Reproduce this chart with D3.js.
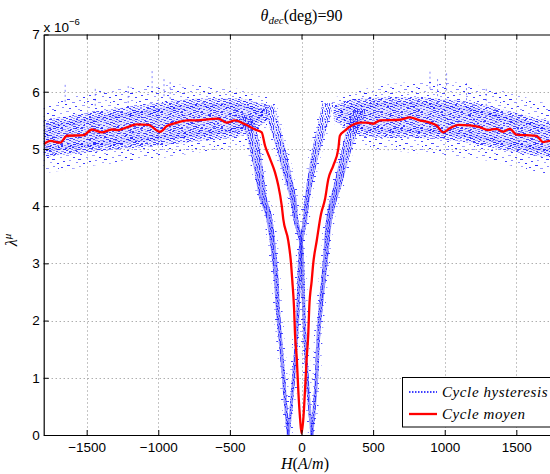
<!DOCTYPE html>
<html><head><meta charset="utf-8">
<script src="https://cdn.jsdelivr.net/npm/d3@7"></script>
<style>body{margin:0;background:#fff}svg{display:block}</style>
</head><body>
<svg id="c" width="550" height="474"></svg>
<script>
// ---------- data (λ values in units of 1e-6) ----------
const xTicks = [-1500, -1000, -500, 0, 500, 1000, 1500];
const yTicks = [0, 1, 2, 3, 4, 5, 6, 7];
const titleMain = "θ", titleSub = "dec", titleRest = "(deg)=90";
const legendLabels = ["Cycle hysteresis", "Cycle moyen"];

// Cycle moyen (mean curve)
const redH = [-1800,-1754,-1684,-1637,-1522,-1463,-1393,-1324,-1280,-1196,-1149,-1070,-987,-940,-870,-800,-731,-638,-582,-522,-464,-394,-324,-278,-255,-220,-185,-162,-138,-127,-92,-73,-64,-52,-45,-33,-22,-10,0,13,24,36,47,54,71,82,106,136,164,187,222,257,268,303,350,408,455,501,547,687,757,826,896,943,989,1036,1093,1175,1245,1303,1361,1407,1454,1501,1570,1640,1686,1733,1800];
const redL = [5.08,5.14,5.11,5.23,5.24,5.34,5.29,5.34,5.33,5.40,5.43,5.42,5.30,5.40,5.46,5.50,5.50,5.52,5.53,5.46,5.50,5.43,5.34,5.29,5.06,4.83,4.59,4.36,4.01,3.77,3.39,3.0,2.69,2.22,1.75,1.34,0.76,0.29,0.03,0.29,0.76,1.34,1.75,2.22,2.69,3.0,3.39,3.86,4.12,4.47,4.71,5.0,5.23,5.32,5.41,5.46,5.46,5.44,5.5,5.51,5.55,5.5,5.46,5.41,5.29,5.36,5.42,5.41,5.38,5.33,5.35,5.30,5.35,5.25,5.24,5.23,5.12,5.14,5.12];

// Cycle hysteresis: saturated regions (scatter envelope and dense core)
const leftH      = [-1800,-1600,-1400,-1200,-1000,-800,-600,-450,-350,-260];
const leftOutHi  = [5.65,5.85,5.95,6.0,6.05,6.05,6.02,5.98,5.92,5.85];
const leftOutLo  = [4.65,4.72,4.8,4.85,4.9,4.98,5.05,5.1,5.2,5.45];
const leftCoreHi = [5.42,5.5,5.58,5.65,5.72,5.78,5.8,5.8,5.75,5.7];
const leftCoreLo = [4.95,5.0,5.05,5.1,5.15,5.2,5.25,5.3,5.4,5.55];

const rightH      = [260,350,450,600,800,1000,1200,1400,1600,1800];
const rightOutHi  = [5.85,5.92,5.98,6.05,6.1,6.1,6.05,5.95,5.8,5.65];
const rightOutLo  = [5.45,5.2,5.1,5.05,5.0,4.97,4.9,4.82,4.7,4.6];
const rightCoreHi = [5.7,5.78,5.8,5.82,5.82,5.78,5.72,5.6,5.47,5.38];
const rightCoreLo = [5.55,5.4,5.3,5.28,5.28,5.25,5.18,5.08,4.98,4.92];

// Cycle hysteresis: branches near the coercive field (λ level, centre H, half spread in H)
const descInL = [5.8,5.45,5.0,4.6,4.05,3.75,3.35,2.5,1.8,1.0,0.5,0.0];
const descInH = [187,152,105,71,36,24,-3,-20,-32,-55,-72,-92];
const descInW = [40,34,28,22,17,15,13,12,11,11,10,10];
const descOutL = [0,0.5,1.0,1.75,2.1,2.98,3.86,4.12,4.66,5.25,5.6];
const descOutH = [-92,-110,-125,-150,-162,-185,-232,-266,-301,-347,-400];
const descOutW = [10,11,12,13,14,17,22,26,32,40,45];
const ascInL = [5.76,5.18,4.59,4.12,3.77,3.35,2.5,1.8,1.0,0.5,0.0];
const ascInH = [-232,-162,-103,-57,-40,-3,12,22,40,55,73];
const ascInW = [40,34,28,22,17,13,12,11,11,10,10];
const ascOutL = [0,0.5,1.0,1.75,2.1,2.98,3.86,4.41,4.88,5.3,5.7];
const ascOutH = [73,90,105,118,129,164,199,257,304,350,409];
const ascOutW = [10,11,12,13,14,17,22,28,32,40,45];

// isolated scatter peaks above the band
const spikeH = [-1650,-1440,-1210,-1043,-960,-917,897,950,1013,1152,1290];
const spikeL = [6.12,6.05,6.1,6.36,6.22,6.17,6.35,6.22,6.32,6.15,6.05];

// ---------- drawing ----------
const svg = d3.select("#c");
const x = d3.scaleLinear().domain([-1800, 1800]).range([43.7, 559.3]);
const y = d3.scaleLinear().domain([0, 7]).range([435, 34.5]);
const L = x.range()[0], R = x.range()[1], T = y.range()[1], B = y.range()[0];

const defs = svg.append("defs");
defs.append("clipPath").attr("id","clip").append("rect")
  .attr("x", L).attr("y", T).attr("width", R - L).attr("height", B - T);

// fade of the branch fill towards the saturated band
const gr = defs.append("linearGradient").attr("id", "armFade").attr("gradientUnits", "userSpaceOnUse")
  .attr("x1", 0).attr("x2", 0).attr("y1", y(5.9)).attr("y2", y(4.0));
gr.append("stop").attr("offset", 0).attr("stop-color", "#0000ff").attr("stop-opacity", 0);
gr.append("stop").attr("offset", 1).attr("stop-color", "#0000ff").attr("stop-opacity", 0.38);

// dotted-line texture tiles: [x, y, length, strong?]
function pattern(id, w, h, dashes, vertical) {
  const p = defs.append("pattern").attr("id", id).attr("patternUnits","userSpaceOnUse")
    .attr("width", w).attr("height", h);
  dashes.forEach(r => p.append("rect").attr("x", r[0]).attr("y", r[1])
    .attr("width", vertical ? 1 : r[2]).attr("height", vertical ? r[2] : 1)
    .attr("fill", r[3] ? "#2424ff" : "#7c7cff").attr("fill-opacity", r[3] ? 0.85 : 0.75));
}
pattern("sparse", 26, 22, [[2,0,2,1],[14,1,3,0],[21,3,2,1],[8,3,2,0],[0,5,3,1],[17,6,2,0],[11,7,2,1],[24,8,2,0],[5,9,2,1],[15,11,3,1],[1,12,2,0],[9,13,2,1],[20,14,3,0],[13,16,2,1],[4,17,3,0],[23,18,2,1],[10,19,2,0],[17,20,2,1],[0,21,2,0],[6,14,1,1]]);
pattern("dense", 20, 16, [[0,0,3,1],[7,0,2,0],[13,0,3,1],[4,1,2,0],[10,1,2,1],[17,1,2,0],[1,2,2,1],[8,2,3,1],[15,2,2,0],[5,3,3,0],[12,3,2,1],[18,3,2,1],[0,4,2,0],[9,4,2,1],[14,4,3,0],[3,5,3,1],[11,5,2,0],[17,5,3,1],[6,6,2,1],[13,6,2,0],[1,7,3,0],[9,7,3,1],[16,7,2,1],[4,8,2,1],[12,8,3,0],[18,8,2,0],[0,9,2,1],[7,9,2,0],[15,9,2,1],[3,10,2,0],[10,10,3,1],[17,10,2,0],[6,11,3,1],[13,11,2,1],[0,12,2,0],[9,12,2,1],[15,12,3,0],[3,13,2,1],[11,13,2,0],[18,13,2,1],[6,14,2,0],[13,14,3,1],[1,15,2,1],[9,15,2,0],[16,15,3,1]]);
pattern("vdense", 7, 8, [[0,0,2,1],[3,1,2,1],[5,0,3,0],[1,3,2,0],[4,4,2,1],[6,3,2,1],[0,5,3,1],[2,6,2,0],[5,6,2,1],[3,7,1,1]], true);

// white background
svg.append("rect").attr("width", 550).attr("height", 474).attr("fill", "#fff");

// grid
const grid = svg.append("g").attr("stroke", "#8a8a8a").attr("stroke-width", 1).attr("stroke-dasharray", "1,3");
xTicks.forEach(t => grid.append("line").attr("x1", Math.round(x(t))+0.5).attr("x2", Math.round(x(t))+0.5).attr("y1", T).attr("y2", B));
yTicks.slice(1, -1).forEach(t => grid.append("line").attr("x1", L).attr("x2", R).attr("y1", Math.round(y(t))+0.5).attr("y2", Math.round(y(t))+0.5));

const plot = svg.append("g").attr("clip-path", "url(#clip)");

// hysteresis: saturated bands
const zipH = (hs, lo, hi) => hs.map((h, i) => ({h, lo: lo[i], hi: hi[i]}));
const bandH = d3.area().curve(d3.curveMonotoneX).x(d => x(d.h)).y0(d => y(d.lo)).y1(d => y(d.hi));
[[leftH,leftOutLo,leftOutHi],[rightH,rightOutLo,rightOutHi]].forEach(a => {
  plot.append("path").attr("d", bandH(zipH(...a))).attr("fill", "url(#sparse)")
    .attr("stroke", "url(#sparse)").attr("stroke-width", 8);
});
[[leftH,leftCoreLo,leftCoreHi],[rightH,rightCoreLo,rightCoreHi]].forEach(a => {
  const d = bandH(zipH(...a));
  plot.append("path").attr("d", d).attr("fill", "#0000ff").attr("fill-opacity", 0.1)
    .attr("stroke", "#0000ff").attr("stroke-opacity", 0.05).attr("stroke-width", 10);
  plot.append("path").attr("d", d).attr("fill", "url(#dense)")
    .attr("stroke", "url(#dense)").attr("stroke-width", 10);
});

// hysteresis: branches
const zipL = (ls, hs, ws) => ls.map((l, i) => ({l, h: hs[i], w: ws[i]}));
const bandL = d3.area().curve(d3.curveCatmullRom).y(d => y(d.l)).x0(d => x(d.h - d.w)).x1(d => x(d.h + d.w));
[[descInL,descInH,descInW],[descOutL,descOutH,descOutW],[ascInL,ascInH,ascInW],[ascOutL,ascOutH,ascOutW]].forEach(a => {
  const d = bandL(zipL(...a));
  plot.append("path").attr("d", d).attr("fill", "none").attr("stroke", "url(#sparse)").attr("stroke-width", 5);
  plot.append("path").attr("d", d).attr("fill", "url(#armFade)");
  plot.append("path").attr("d", d).attr("fill", "url(#vdense)");
});

// scatter peaks
spikeH.forEach((h, i) => plot.append("line").attr("x1", x(h)).attr("x2", x(h)).attr("y1", y(spikeL[i])).attr("y2", y(spikeL[i] - 0.3))
  .attr("stroke", "#2020ff").attr("stroke-opacity", 0.55).attr("stroke-dasharray", "2,3"));

// mean curve
const red = redH.map((h, i) => ({h, l: redL[i]}));
plot.append("path").attr("d", d3.line().curve(d3.curveMonotoneX).x(d => x(d.h)).y(d => y(d.l))(red))
  .attr("fill", "none").attr("stroke", "#ff0000").attr("stroke-width", 2.3).attr("stroke-linejoin", "round");

// axes
const fontSans = "'Liberation Sans', Arial, Helvetica, sans-serif";
const fmt = d3.format("d");
const gx = svg.append("g").attr("transform", `translate(0,${B})`)
  .call(d3.axisBottom(x).tickValues(xTicks).tickFormat(fmt).tickSizeInner(-5).tickSizeOuter(0).tickPadding(7));
const gy = svg.append("g").attr("transform", `translate(${L},0)`)
  .call(d3.axisLeft(y).tickValues(yTicks).tickFormat(fmt).tickSizeInner(-5).tickSizeOuter(0).tickPadding(4));
const gt = svg.append("g").attr("transform", `translate(0,${T})`)
  .call(d3.axisTop(x).tickValues(xTicks).tickSizeInner(-5).tickSizeOuter(0).tickFormat(""));
[gx, gy, gt].forEach(g => {
  g.selectAll("path.domain").attr("stroke", "#000").attr("stroke-width", 1.2);
  g.selectAll(".tick line").attr("stroke", "#000");
  g.selectAll("text").attr("font-family", fontSans).attr("font-size", 13.5).attr("fill", "#000");
});
svg.append("line").attr("x1", R).attr("x2", R).attr("y1", T).attr("y2", B).attr("stroke", "#000");

// exponent label
const ex = svg.append("text").attr("x", 43.5).attr("y", 31.5).attr("font-family", fontSans).attr("font-size", 13.5);
ex.append("tspan").text("x 10");
ex.append("tspan").attr("font-size", 9.5).attr("dy", -7).text("−6");

// title
const fontSerif = "'Liberation Serif', 'Times New Roman', serif";
const tt = svg.append("text").attr("x", 301.5).attr("y", 21).attr("text-anchor", "middle")
  .attr("font-family", fontSerif).attr("font-size", 16);
tt.append("tspan").attr("font-style", "italic").text(titleMain);
tt.append("tspan").attr("font-style", "italic").attr("font-size", 11).attr("dy", 3).text(titleSub);
tt.append("tspan").attr("dy", -3).text(titleRest);

// x label H(A/m)
const xl = svg.append("text").attr("x", 305).attr("y", 469).attr("text-anchor", "middle")
  .attr("font-family", fontSerif).attr("font-size", 16);
xl.append("tspan").attr("font-style", "italic").text("H");
xl.append("tspan").text("(");
xl.append("tspan").attr("font-style", "italic").text("A");
xl.append("tspan").text("/");
xl.append("tspan").attr("font-style", "italic").text("m");
xl.append("tspan").text(")");

// y label λ^μ
const yl = svg.append("text").attr("transform", "translate(17,240) rotate(-90)").attr("text-anchor", "middle")
  .attr("font-family", fontSerif).attr("font-size", 16);
yl.append("tspan").attr("font-style", "italic").text("λ");
yl.append("tspan").attr("font-style", "italic").attr("font-size", 11).attr("dy", -6).text("μ");

// legend
const lg = svg.append("g");
lg.append("rect").attr("x", 402.5).attr("y", 377.5).attr("width", 170).attr("height", 49.5)
  .attr("fill", "#fff").attr("stroke", "#000").attr("stroke-width", 1);
lg.append("line").attr("x1", 409).attr("x2", 437).attr("y1", 392).attr("y2", 392)
  .attr("stroke", "#0000ff").attr("stroke-width", 1.6).attr("stroke-dasharray", "1.5,1.5");
lg.append("line").attr("x1", 409).attr("x2", 437).attr("y1", 414).attr("y2", 414)
  .attr("stroke", "#ff0000").attr("stroke-width", 2.3);
lg.selectAll("text.lab").data(legendLabels).join("text").attr("class", "lab")
  .attr("x", 442).attr("y", (d, i) => 396.5 + i * 22)
  .attr("font-family", fontSerif).attr("font-style", "italic").attr("font-size", 15)
  .attr("letter-spacing", 0.6).text(d => d);
</script>
</body></html>
